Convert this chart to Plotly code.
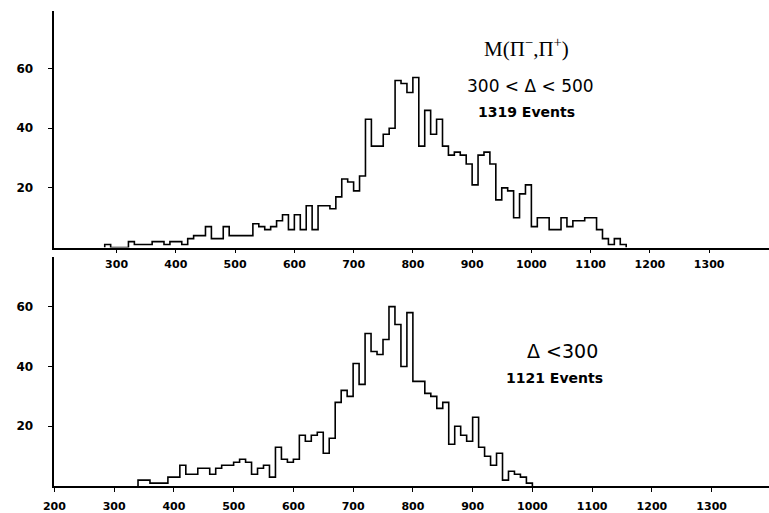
import plotly.graph_objects as go

# ---------------- data (10 MeV bins, lower bin edges) ----------------
bin_width = 10

top_first_bin = 280
top_counts = [1, 0, 0, 0, 2, 1, 1, 1, 2, 2,      # 280-370
              1, 2, 2, 1, 3, 4, 4, 7, 3, 3,      # 380-470
              7, 4, 4, 4, 4, 8, 7, 6, 7, 9,      # 480-570
              11, 6, 11, 6, 14, 6, 14, 14, 13, 17,  # 580-670
              23, 22, 19, 24, 43, 34, 34, 38, 40, 56,  # 680-770
              55, 52, 57, 34, 46, 38, 43, 34, 31, 32,  # 780-870
              31, 28, 21, 31, 32, 28, 16, 20, 19, 10,  # 880-970
              18, 21, 7, 10, 10, 6, 6, 10, 7, 9,      # 980-1070
              9, 10, 10, 6, 3, 1, 3, 1]               # 1080-1150

bottom_first_bin = 340
bottom_counts = [2, 2, 1, 1, 1, 3, 3, 7, 4, 4,       # 340-430
                 6, 6, 4, 6, 7, 7, 8, 9, 8, 4,       # 440-530
                 6, 7, 3, 13, 9, 8, 9, 17, 15, 17,   # 540-630
                 18, 11, 16, 28, 32, 30, 41, 34, 51, 45,  # 640-730
                 44, 49, 60, 54, 40, 58, 35, 35, 31, 30,  # 740-830
                 26, 28, 14, 20, 17, 15, 23, 13, 10, 7,   # 840-930
                 11, 2, 5, 4, 3, 1]                       # 940-990

top_xticks = [300, 400, 500, 600, 700, 800, 900, 1000, 1100, 1200, 1300]
bottom_xticks = [200, 300, 400, 500, 600, 700, 800, 900, 1000, 1100, 1200, 1300]
y_ticks = [20, 40, 60]

top_title = "M(Π<sup>−</sup>,Π<sup>+</sup>)"
top_cut = "300 < Δ < 500"
top_events = "1319 Events"
bottom_cut = "Δ <300"
bottom_events = "1121 Events"


def step_xy(first, width, counts):
    edges = [first + i * width for i in range(len(counts) + 1)]
    xs = [edges[0]] + edges[:-1] + [edges[-1]]
    ys = [0] + list(counts) + [0]
    return xs, ys


W, H = 769, 513
fig = go.Figure()

tx, ty = step_xy(top_first_bin, bin_width, top_counts)
bx, by = step_xy(bottom_first_bin, bin_width, bottom_counts)

fig.add_trace(go.Scatter(x=tx, y=ty, mode="lines", xaxis="x", yaxis="y",
                         line=dict(color="black", width=1.6, shape="hv"),
                         showlegend=False, hoverinfo="skip"))
fig.add_trace(go.Scatter(x=bx, y=by, mode="lines", xaxis="x2", yaxis="y2",
                         line=dict(color="black", width=1.6, shape="hv"),
                         showlegend=False, hoverinfo="skip"))

xtickfont = dict(family="DejaVu Sans", size=11, color="black", weight="bold")
ytickfont = dict(family="DejaVu Sans", size=12, color="black", weight="bold")
axis_common = dict(showgrid=False, zeroline=False, showline=True,
                   linecolor="black", linewidth=1.5, ticks="outside",
                   tickcolor="black", tickwidth=1.2, fixedrange=True)

x_dom = [44 / W, 1.0]
top_dom = [1 - 249 / H, 1 - 11 / H]
bot_dom = [1 - 489 / H, 1 - 259 / H]

fig.update_layout(
    width=W, height=H,
    margin=dict(l=0, r=0, t=0, b=0),
    paper_bgcolor="white", plot_bgcolor="white",
    xaxis=dict(domain=x_dom, range=[195, 1401], anchor="y",
               tickvals=top_xticks, ticktext=[str(v) for v in top_xticks],
               ticklen=4, ticklabelstandoff=2, tickfont=xtickfont, **axis_common),
    yaxis=dict(domain=top_dom, range=[0, (249 - 11) / 3.0], anchor="x",
               tickvals=y_ticks, ticktext=[str(v) for v in y_ticks],
               ticklen=5, ticklabelstandoff=12, tickfont=ytickfont, **axis_common),
    xaxis2=dict(domain=x_dom, range=[200, 1396], anchor="y2",
                tickvals=bottom_xticks, ticktext=[str(v) for v in bottom_xticks],
                ticklen=4, ticklabelstandoff=5, tickfont=xtickfont, **axis_common),
    yaxis2=dict(domain=bot_dom, range=[0, (489 - 259) / 3.01], anchor="x2",
                tickvals=y_ticks, ticktext=[str(v) for v in y_ticks],
                ticklen=5, ticklabelstandoff=12, tickfont=ytickfont, **axis_common),
)


def ann(text, px, py, size, family, bold=False):
    fig.add_annotation(text=("<b>%s</b>" % text) if bold else text,
                       x=px / W, y=1 - py / H, xref="paper", yref="paper",
                       showarrow=False, xanchor="center", yanchor="middle",
                       font=dict(family=family, size=size, color="black"))


ann(top_title, 523, 48, 21, "Liberation Serif")
ann(top_cut, 527, 87, 17, "DejaVu Sans")
ann(top_events, 523, 113, 14, "DejaVu Sans", bold=True)
ann(bottom_cut, 560, 353, 19, "DejaVu Sans")
ann(bottom_events, 551, 380, 14, "DejaVu Sans", bold=True)

fig.write_html("out.html")
